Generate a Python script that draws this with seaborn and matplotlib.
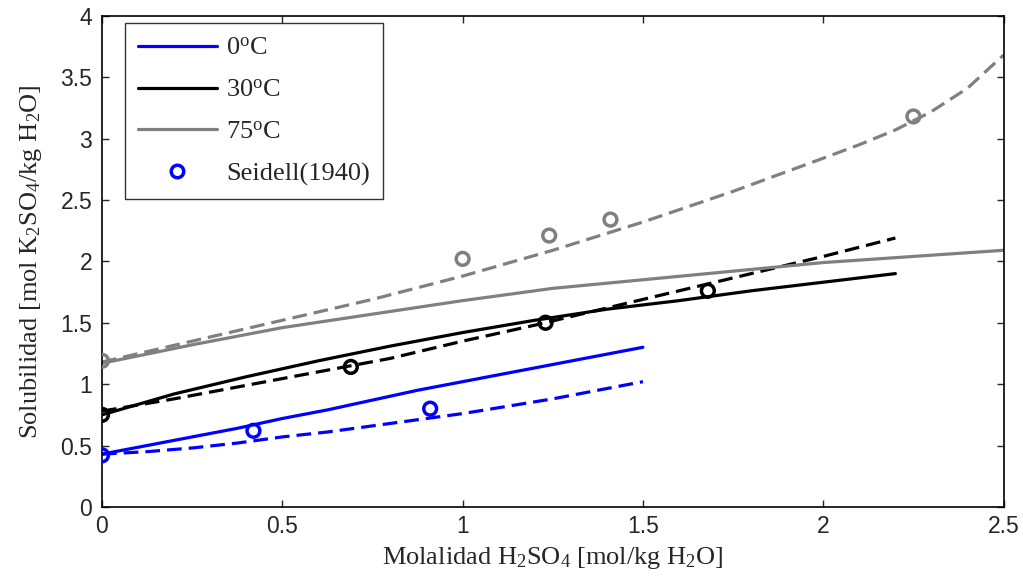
import matplotlib
matplotlib.use("Agg")
import matplotlib.pyplot as plt
from matplotlib.lines import Line2D
import seaborn as sns
import pandas as pd

# ---- data ----
x_0c = [0.0, 0.125, 0.25, 0.375, 0.5, 0.625, 0.75, 0.875, 1.0, 1.125, 1.25, 1.375, 1.5]
solid_0c = [0.43, 0.50, 0.57, 0.64, 0.72, 0.79, 0.87, 0.95, 1.02, 1.09, 1.16, 1.23, 1.30]
dash_0c = [0.43, 0.45, 0.48, 0.52, 0.57, 0.61, 0.66, 0.71, 0.76, 0.82, 0.88, 0.95, 1.02]

x_30c = [0.0, 0.2, 0.4, 0.6, 0.8, 1.0, 1.2, 1.4, 1.6, 1.8, 2.0, 2.2]
solid_30c = [0.75, 0.92, 1.06, 1.19, 1.31, 1.42, 1.52, 1.61, 1.68, 1.76, 1.83, 1.90]
dash_30c = [0.78, 0.88, 0.99, 1.10, 1.21, 1.35, 1.48, 1.62, 1.76, 1.90, 2.04, 2.19]

x_75c = [0.0, 0.25, 0.5, 0.75, 1.0, 1.25, 1.5, 1.75, 2.0, 2.1, 2.2, 2.3, 2.4, 2.5]
solid_75c = [1.17, 1.32, 1.46, 1.57, 1.68, 1.78, 1.85, 1.92, 1.99, 2.01, 2.03, 2.05, 2.07, 2.09]
dash_75c = [1.18, 1.35, 1.52, 1.69, 1.88, 2.09, 2.32, 2.57, 2.84, 2.95, 3.07, 3.22, 3.41, 3.68]

exp_x_0c = [0.0, 0.42, 0.91]
exp_y_0c = [0.42, 0.62, 0.80]
exp_x_30c = [0.0, 0.69, 1.23, 1.68]
exp_y_30c = [0.75, 1.14, 1.50, 1.76]
exp_x_75c = [0.0, 1.0, 1.24, 1.41, 2.25]
exp_y_75c = [1.19, 2.02, 2.21, 2.34, 3.18]

legend_labels = ["0$^{\\mathrm{o}}$C", "30$^{\\mathrm{o}}$C", "75$^{\\mathrm{o}}$C", "Seidell(1940)"]
x_ticks = [0, 0.5, 1, 1.5, 2, 2.5]
x_tick_labels = ["0", "0.5", "1", "1.5", "2", "2.5"]
y_ticks = [0, 0.5, 1, 1.5, 2, 2.5, 3, 3.5, 4]
y_tick_labels = ["0", "0.5", "1", "1.5", "2", "2.5", "3", "3.5", "4"]

colors = {"0": "#0000ff", "30": "#000000", "75": "#808080"}

sns.set_style("ticks")
plt.rcParams["font.family"] = ["Liberation Serif", "DejaVu Serif"]
plt.rcParams["mathtext.fontset"] = "custom"
plt.rcParams["mathtext.rm"] = "Liberation Serif"
plt.rcParams["mathtext.it"] = "Liberation Serif:italic"
plt.rcParams["mathtext.default"] = "regular"

fig = plt.figure(figsize=(10.23, 5.84), dpi=100)
ax = fig.add_axes([0.0997, 0.132, 0.8813, 0.841])

lw = 2.3
dash_pat = (0, (4.6, 2.2))
series = [
    ("0", x_0c, solid_0c, dash_0c, exp_x_0c, exp_y_0c),
    ("30", x_30c, solid_30c, dash_30c, exp_x_30c, exp_y_30c),
    ("75", x_75c, solid_75c, dash_75c, exp_x_75c, exp_y_75c),
]
for key, xs, ys, yd, ex, ey in series:
    c = colors[key]
    df = pd.DataFrame({"x": xs, "solid": ys, "dash": yd})
    sns.lineplot(data=df, x="x", y="solid", ax=ax, color=c, lw=lw, sort=False)
    sns.lineplot(data=df, x="x", y="dash", ax=ax, color=c, lw=lw, sort=False,
                 linestyle=dash_pat)
    de = pd.DataFrame({"x": ex, "y": ey})
    sns.scatterplot(data=de, x="x", y="y", ax=ax, marker="o", s=85,
                    facecolors="none", edgecolors=c, linewidths=2.5, zorder=5)

ax.set_xlim(0, 2.5)
ax.set_ylim(0, 4)
ax.set_xticks(x_ticks)
ax.set_xticklabels(x_tick_labels)
ax.set_yticks(y_ticks)
ax.set_yticklabels(y_tick_labels)
ax.tick_params(direction="in", top=True, right=True, length=5, width=1,
               labelsize=16.5, labelfontfamily="Liberation Sans")
ax.tick_params(axis="x", pad=6)
ax.tick_params(axis="y", pad=7)
for s in ax.spines.values():
    s.set_linewidth(1.2)
    s.set_color("black")

ax.set_xlabel("Molalidad H$_2$SO$_4$ [mol/kg H$_2$O]", fontsize=19, labelpad=5)
ax.set_ylabel("Solubilidad [mol K$_2$SO$_4$/kg H$_2$O]", fontsize=19, labelpad=12)

handles = [
    Line2D([], [], color=colors["0"], lw=lw),
    Line2D([], [], color=colors["30"], lw=lw),
    Line2D([], [], color=colors["75"], lw=lw),
    Line2D([], [], color=colors["0"], lw=0, marker="o", markersize=9,
           markerfacecolor="none", markeredgewidth=2.5),
]
leg = ax.legend(handles, legend_labels, loc="upper left", bbox_to_anchor=(0.025, 0.985),
                fontsize=19, frameon=True, fancybox=False, edgecolor="black",
                handlelength=3.0, borderpad=0.5, labelspacing=0.7, handletextpad=0.35,
                borderaxespad=0.0)
leg.get_frame().set_linewidth(1.0)

fig.savefig("out.png", dpi=100)
